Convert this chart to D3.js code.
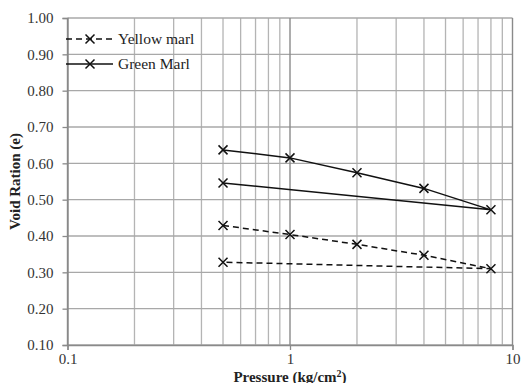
<!DOCTYPE html>
<html>
<head>
<meta charset="utf-8">
<script src="https://cdn.jsdelivr.net/npm/d3@7"></script>
<style>
  body { margin: 0; background: #fff; }
  svg text { font-family: "Times New Roman", "Liberation Serif", serif; }
</style>
</head>
<body>
<script>
// pressure steps (loading 0.5 -> 8, then unloading back to 0.5)
const pressures = [0.5, 1, 2, 4, 8, 0.5];
const yellowMarl = [0.429, 0.404, 0.377, 0.347, 0.310, 0.328];
const greenMarl = [0.637, 0.615, 0.574, 0.531, 0.472, 0.546];
const xTicks = [0.1, 1, 10];
const yTicks = [0.1, 0.2, 0.3, 0.4, 0.5, 0.6, 0.7, 0.8, 0.9, 1.0];

const width = 521;
const height = 383;
const plotLeft = 67.5, plotRight = 512.5, plotTop = 18, plotBottom = 345;

const svg = d3.select("body").append("svg")
  .attr("width", width)
  .attr("height", height);

const x = d3.scaleLog().domain([0.1, 10]).range([plotLeft, plotRight]);
const y = d3.scaleLinear().domain([0.1, 1.0]).range([plotBottom, plotTop]);

//Minor vertical grid (2..9 of each decade)
const minor = [];
[0.1, 1].forEach((d) => {
  for (let i = 2; i <= 9; i++) minor.push(d * i);
});
svg.append("g")
  .selectAll("line")
  .data(minor)
  .enter()
  .append("line")
  .attr("x1", (d) => x(d))
  .attr("x2", (d) => x(d))
  .attr("y1", plotTop)
  .attr("y2", plotBottom)
  .attr("stroke", "#b4b4b4")
  .attr("stroke-width", 1.3);

//Horizontal grid
svg.append("g")
  .selectAll("line")
  .data(yTicks)
  .enter()
  .append("line")
  .attr("x1", plotLeft)
  .attr("x2", plotRight)
  .attr("y1", (d) => y(d))
  .attr("y2", (d) => y(d))
  .attr("stroke", "#a8a8a8")
  .attr("stroke-width", 1.3);

//Major vertical grid
svg.append("g")
  .selectAll("line")
  .data(xTicks)
  .enter()
  .append("line")
  .attr("x1", (d) => x(d))
  .attr("x2", (d) => x(d))
  .attr("y1", plotTop)
  .attr("y2", plotBottom)
  .attr("stroke", "#8a8a8a")
  .attr("stroke-width", 1.4);

//Axes
const xAxis = d3.axisBottom(x)
  .tickValues(xTicks)
  .tickFormat((d) => String(d))
  .tickSize(5)
  .tickPadding(3);
const gx = svg.append("g")
  .attr("transform", "translate(0," + plotBottom + ")")
  .call(xAxis);

const yAxis = d3.axisLeft(y)
  .tickValues(yTicks)
  .tickFormat(d3.format(".2f"))
  .tickSize(5)
  .tickPadding(9);
const gy = svg.append("g")
  .attr("transform", "translate(" + plotLeft + ",0)")
  .call(yAxis);

[gx, gy].forEach((g) => {
  g.attr("font-family", null);
  g.select(".domain").attr("stroke", "#8a8a8a").attr("stroke-width", 1.4);
  g.selectAll(".tick line").attr("stroke", "#8a8a8a").attr("stroke-width", 1.3);
  g.selectAll(".tick text")
    .attr("font-size", 15)
    .attr("fill", "#333");
});

//Series
const series = [
  { name: "Yellow marl", values: yellowMarl, dash: "6,4" },
  { name: "Green Marl", values: greenMarl, dash: null }
];

const line = d3.line()
  .x((d) => x(d[0]))
  .y((d) => y(d[1]));

const cross = (g, cx, cy) => {
  const s = 4.5;
  g.append("path")
    .attr("d", "M" + (cx - s) + "," + (cy - s) + "L" + (cx + s) + "," + (cy + s) +
      "M" + (cx - s) + "," + (cy + s) + "L" + (cx + s) + "," + (cy - s))
    .attr("stroke", "#111")
    .attr("stroke-width", 1.5)
    .attr("fill", "none");
};

series.forEach((s) => {
  const pts = pressures.map((p, i) => [p, s.values[i]]);
  svg.append("path")
    .datum(pts)
    .attr("d", line)
    .attr("fill", "none")
    .attr("stroke", "#111")
    .attr("stroke-width", 1.5)
    .attr("stroke-dasharray", s.dash);
  const g = svg.append("g");
  pts.forEach((d) => cross(g, x(d[0]), y(d[1])));
});

//Legend
const legend = svg.append("g");
series.forEach((s, i) => {
  const ly = 39 + i * 25;
  legend.append("line")
    .attr("x1", 66)
    .attr("x2", 113)
    .attr("y1", ly)
    .attr("y2", ly)
    .attr("stroke", "#111")
    .attr("stroke-width", 1.5)
    .attr("stroke-dasharray", s.dash);
  cross(legend, 90, ly);
  legend.append("text")
    .attr("x", 118)
    .attr("y", ly + 5)
    .attr("font-size", 15.5)
    .attr("fill", "#222")
    .text(s.name);
});

//Axis titles
const xt = svg.append("text")
  .attr("x", 290)
  .attr("y", 381.5)
  .attr("text-anchor", "middle")
  .attr("font-size", 15)
  .attr("font-weight", "bold")
  .attr("fill", "#222");
xt.append("tspan").text("Pressure (kg/cm");
xt.append("tspan").attr("dy", -5).attr("font-size", 10).text("2");
xt.append("tspan").attr("dy", 5).text(")");

svg.append("text")
  .attr("transform", "translate(20," + (plotTop + plotBottom) / 2 + ") rotate(-90)")
  .attr("text-anchor", "middle")
  .attr("font-size", 15)
  .attr("font-weight", "bold")
  .attr("fill", "#222")
  .text("Void Ration (e)");
</script>
</body>
</html>
